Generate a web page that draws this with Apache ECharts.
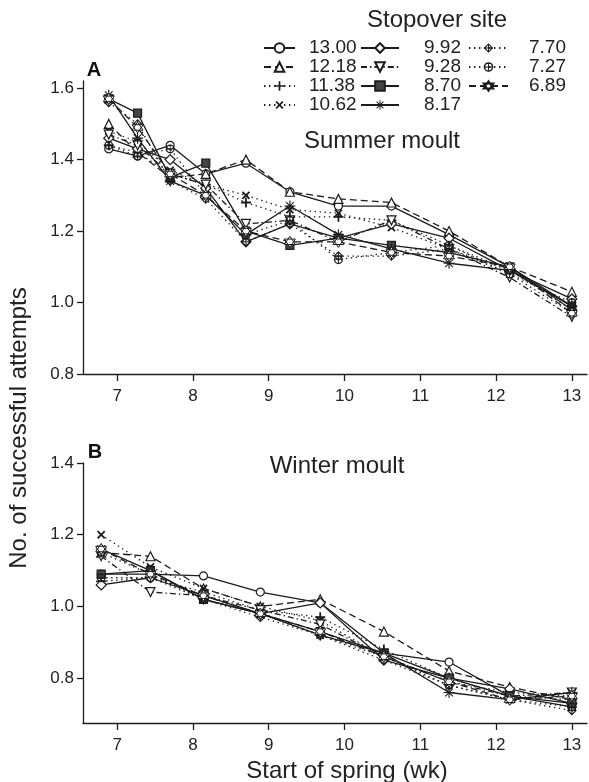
<!DOCTYPE html>
<html><head><meta charset="utf-8">
<script src="https://cdn.jsdelivr.net/npm/echarts@6/dist/echarts.min.js"></script>
<style>html,body{margin:0;padding:0;background:#fff}#c{width:589px;height:782px}</style>
</head><body><div id="c"></div>
<script>
// ---- data ----
const weeksA = [6.89, 7.27, 7.70, 8.17, 8.70, 9.28, 9.92, 10.62, 11.38, 12.18, 13.00];
const weeksB = [6.79, 7.44, 8.14, 8.89, 9.68, 10.52, 11.38, 12.18, 13.00];
const sites = ['13.00','12.18','11.38','10.62','9.92','9.28','8.70','8.17','7.70','7.27','6.89'];
const xTicks = [7, 8, 9, 10, 11, 12, 13];
const yTicksA = [0.8, 1.0, 1.2, 1.4, 1.6];
const yTicksB = [0.8, 1.0, 1.2, 1.4];

// Summer moult (panel A)
const summer1300 = [1.43, 1.41, 1.44, 1.36, 1.39, 1.31, 1.27, 1.27, 1.19, 1.10, 0.99];
const summer1218 = [1.50, 1.42, 1.35, 1.36, 1.40, 1.31, 1.29, 1.28, 1.20, 1.10, 1.03];
const summer1138 = [1.44, 1.42, 1.36, 1.33, 1.28, 1.24, 1.24, 1.23, 1.16, 1.09, 0.98];
const summer1062 = [1.48, 1.45, 1.37, 1.33, 1.30, 1.26, 1.25, 1.21, 1.15, 1.08, 0.97];
const summer992  = [1.46, 1.43, 1.40, 1.32, 1.17, 1.22, 1.18, 1.22, 1.18, 1.09, 1.01];
const summer928  = [1.47, 1.44, 1.36, 1.33, 1.22, 1.23, 1.17, 1.23, 1.15, 1.07, 0.96];
const summer870  = [1.57, 1.53, 1.35, 1.39, 1.20, 1.16, 1.18, 1.16, 1.14, 1.10, 0.98];
const summer817  = [1.58, 1.46, 1.34, 1.30, 1.19, 1.27, 1.19, 1.15, 1.11, 1.09, 0.99];
const summer770  = [1.56, 1.50, 1.34, 1.29, 1.17, 1.22, 1.13, 1.13, 1.15, 1.09, 0.99];
const summer727  = [1.44, 1.41, 1.43, 1.30, 1.19, 1.23, 1.12, 1.14, 1.16, 1.08, 1.00];
const summer689  = [1.57, 1.49, 1.36, 1.30, 1.20, 1.17, 1.17, 1.14, 1.13, 1.10, 0.97];

// Winter moult (panel B)
const winter1300 = [1.09, 1.09, 1.085, 1.04, 1.01, 0.87, 0.845, 0.75, 0.72];
const winter1218 = [1.15, 1.14, 1.05, 1.00, 1.02, 0.93, 0.82, 0.775, 0.74];
const winter1138 = [1.07, 1.08, 1.04, 0.99, 0.97, 0.88, 0.80, 0.75, 0.74];
const winter1062 = [1.20, 1.11, 1.05, 1.00, 0.96, 0.86, 0.79, 0.76, 0.75];
const winter992  = [1.06, 1.08, 1.03, 0.98, 1.01, 0.85, 0.80, 0.77, 0.73];
const winter928  = [1.14, 1.04, 1.03, 0.99, 0.95, 0.86, 0.79, 0.75, 0.76];
const winter870  = [1.09, 1.10, 1.02, 0.98, 0.93, 0.87, 0.80, 0.75, 0.73];
const winter817  = [1.16, 1.10, 1.02, 0.98, 0.92, 0.87, 0.76, 0.74, 0.76];
const winter770  = [1.15, 1.09, 1.02, 0.97, 0.92, 0.85, 0.78, 0.74, 0.71];
const winter727  = [1.08, 1.08, 1.02, 0.98, 0.92, 0.86, 0.78, 0.74, 0.72];
const winter689  = [1.16, 1.09, 1.03, 0.98, 0.93, 0.86, 0.79, 0.74, 0.75];

const summerSeries = [summer1300, summer1218, summer1138, summer1062, summer992, summer928, summer870, summer817, summer770, summer727, summer689];
const winterSeries = [winter1300, winter1218, winter1138, winter1062, winter992, winter928, winter870, winter817, winter770, winter727, winter689];

// ---- styles ----
const INK = '#1c1c1c';
const SOLID = 'solid', DASH = [7, 4], DOT = [1.4, 3.6], DASHDOT = [6, 3, 1.4, 3];
const P_PLUS = 'path://M4.1,0H5.9V4.1H10V5.9H5.9V10H4.1V5.9H0V4.1H4.1Z';
const P_AST = 'path://M9,0H11V20H9Z M0,9H20V11H0Z M2.3,3.7L3.7,2.3L17.7,16.3L16.3,17.7Z M16.3,2.3L17.7,3.7L3.7,17.7L2.3,16.3Z';
const P_DPLUS = 'path://M10,0L20,10L10,20L0,10Z M10,3.2L3.2,10L10,16.8L16.8,10Z M9,1H11V19H9Z M1,9H19V11H1Z';
const P_CPLUS = 'path://M0,10A10,10,0,1,1,20,10A10,10,0,1,1,0,10Z M3,10A7,7,0,1,0,17,10A7,7,0,1,0,3,10Z M9,1H11V19H9Z M1,9H19V11H1Z';
const P_HEX = 'path://M10,0L18.66,15L1.34,15Z M10,20L1.34,5L18.66,5Z';
const styles = [
  {sym: 'circle', size: 8, fill: '#fff', bw: 1.2, line: SOLID, rot: 0},
  {sym: 'triangle', size: 9, fill: '#fff', bw: 1.2, line: DASH, rot: 0},
  {sym: P_PLUS, size: 10, fill: INK, bw: 0, line: DOT, rot: 0},
  {sym: P_PLUS, size: 10, fill: INK, bw: 0, line: DOT, rot: 45},
  {sym: 'diamond', size: 10, fill: '#fff', bw: 1.2, line: SOLID, rot: 0},
  {sym: 'triangle', size: 9, fill: '#fff', bw: 1.2, line: DASHDOT, rot: 180},
  {sym: 'rect', size: 8, fill: '#444', bw: 1.2, line: SOLID, rot: 0},
  {sym: P_AST, size: 11, fill: INK, bw: 0, line: SOLID, rot: 0},
  {sym: P_DPLUS, size: 10, fill: INK, bw: 0, line: DOT, rot: 0},
  {sym: P_CPLUS, size: 9, fill: INK, bw: 0, line: DOT, rot: 0},
  {sym: P_HEX, size: 11, fill: '#fff', bw: 1, line: DASH, rot: 0}
];

function mkSeries(weeks, values, i, axisIdx) {
  const s = styles[i];
  return {
    name: sites[i], type: 'line', xAxisIndex: axisIdx, yAxisIndex: axisIdx,
    data: weeks.map((w, k) => [w, values[k]]),
    symbol: s.sym, symbolSize: s.size, symbolRotate: s.rot, showAllSymbol: true,
    lineStyle: {color: INK, width: 1.3, type: s.line},
    itemStyle: {color: s.fill, borderColor: INK, borderWidth: s.bw},
    emphasis: {disabled: true}, animation: false
  };
}

const series = [];
summerSeries.forEach((v, i) => series.push(mkSeries(weeksA, v, i, 0)));
winterSeries.forEach((v, i) => series.push(mkSeries(weeksB, v, i, 1)));

const FONT = 'Liberation Sans';
const axisCommon = {
  axisLine: {onZero: false, lineStyle: {color: INK, width: 1.3}},
  splitLine: {show: false}
};
function xAxis(gi) {
  return Object.assign({}, axisCommon, {
    type: 'value', gridIndex: gi, min: 6.55, max: 13.2,
    axisTick: {customValues: xTicks, length: 7, lineStyle: {color: INK, width: 1.3}},
    axisLabel: {customValues: xTicks, fontSize: 17, margin: 14, color: '#222', fontFamily: FONT}
  });
}
function yAxis(gi, min, max, ticks) {
  return Object.assign({}, axisCommon, {
    type: 'value', gridIndex: gi, min: min, max: max,
    axisTick: {customValues: ticks, length: 6, lineStyle: {color: INK, width: 1.3}},
    axisLabel: {customValues: ticks, fontSize: 17, margin: 9, color: '#222', fontFamily: FONT,
      formatter: v => v.toFixed(1)}
  });
}

function legend(names, left, itemWidth, pad) {
  return {
    data: names, orient: 'vertical', left: left, top: 38.5, padding: 0, itemGap: 0,
    itemWidth: itemWidth, itemHeight: 12, selectedMode: false,
    textStyle: {fontSize: 19, lineHeight: 19, color: '#222', fontFamily: FONT, padding: [0, 0, 0, pad]}
  };
}

function txt(text, x, y, size, extra) {
  return {type: 'text', style: Object.assign({text: text, fontSize: size, fill: '#222', fontFamily: FONT,
    align: 'center', verticalAlign: 'middle', x: x, y: y}, extra || {})};
}

const option = {
  animation: false,
  backgroundColor: '#fff',
  textStyle: {fontFamily: FONT},
  grid: [
    {left: 83, top: 81, width: 504, height: 293},
    {left: 83, top: 463, width: 504, height: 260}
  ],
  xAxis: [xAxis(0), xAxis(1)],
  yAxis: [yAxis(0, 0.8, 1.62, yTicksA), yAxis(1, 0.675, 1.4, yTicksB)],
  legend: [
    legend(sites.slice(0, 4), 263, 31, 9),
    legend(sites.slice(4, 8), 360, 38, 20),
    legend(sites.slice(8), 468, 39, 16)
  ],
  graphic: [
    txt('Stopover site', 437, 20, 24),
    txt('A', 94, 70, 20, {fontWeight: 'bold', fill: '#111'}),
    txt('B', 95, 452, 20, {fontWeight: 'bold', fill: '#111'}),
    txt('Summer moult', 382, 141, 24),
    txt('Winter moult', 337, 466, 24),
    txt('Start of spring (wk)', 347, 771, 24),
    {type: 'text', x: 19, y: 428, rotation: Math.PI / 2, style: {text: 'No. of successful attempts', fontSize: 24, fill: '#222', fontFamily: FONT, align: 'center', verticalAlign: 'middle', x: 0, y: 0}}
  ],
  series: series
};
const chart = echarts.init(document.getElementById('c'), null, {renderer: 'canvas'});
chart.setOption(option);
</script></body></html>
